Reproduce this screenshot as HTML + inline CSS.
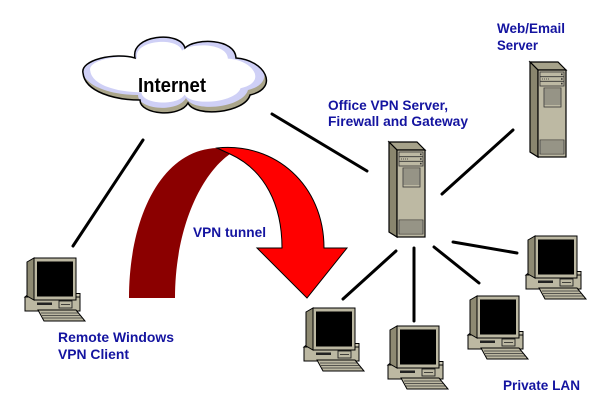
<!DOCTYPE html>
<html><head><meta charset="utf-8"><style>
html,body{margin:0;padding:0;background:#fff;}
svg{display:block;}
text{font-family:"Liberation Sans",Arial,sans-serif;font-weight:bold;}
</style></head><body>
<svg width="600" height="400" viewBox="0 0 600 400" xmlns="http://www.w3.org/2000/svg">
<defs>
  <g id="pc">
    <!-- CPU box -->
    <polygon points="1,41 5,37.5 56,37.5 56,41" fill="#d0ccb8" stroke="#000" stroke-width="1"/>
    <rect x="1" y="41" width="55" height="14" fill="#bcb8a2" stroke="#000" stroke-width="1"/>
    <rect x="13" y="46.5" width="15" height="2.5" fill="#222"/>
    <rect x="35" y="45" width="13" height="7" fill="none" stroke="#222" stroke-width="0.9"/>
    <line x1="37" y1="48.5" x2="46" y2="48.5" stroke="#222" stroke-width="0.8"/>
    <!-- monitor -->
    <polygon points="3,6 10,2 10,44 3,40" fill="#8e8a72" stroke="#000" stroke-width="1"/>
    <rect x="10" y="2" width="42" height="42" fill="#bcb8a2" stroke="#000" stroke-width="1"/>
    <rect x="13" y="5.5" width="36" height="35" fill="#000"/>
    <!-- keyboard -->
    <polygon points="14,54 52,54 61,65 20,65" fill="#bcb8a2" stroke="#000" stroke-width="1"/>
    <line x1="17" y1="57" x2="54" y2="57" stroke="#333" stroke-width="0.8"/>
    <line x1="18" y1="59.5" x2="56" y2="59.5" stroke="#333" stroke-width="0.8"/>
    <line x1="19" y1="62" x2="58" y2="62" stroke="#333" stroke-width="0.8"/>
  </g>
  <g id="tower">
    <polygon points="0,0 28,0 36,8 8,8" fill="#a6a28a" stroke="#000" stroke-width="1.2"/>
    <polygon points="0,0 8,8 8,95 0,90" fill="#8a866e" stroke="#000" stroke-width="1.2"/>
    <rect x="8" y="8" width="28" height="87" fill="#bdb9a3" stroke="#000" stroke-width="1.2"/>
    <rect x="10" y="10" width="24" height="14" fill="none" stroke="#333" stroke-width="0.8"/>
    <line x1="10" y1="14.7" x2="34" y2="14.7" stroke="#333" stroke-width="0.8"/>
    <line x1="10" y1="19.3" x2="34" y2="19.3" stroke="#333" stroke-width="0.8"/>
    <line x1="12" y1="17" x2="20" y2="17" stroke="#333" stroke-width="0.8" stroke-dasharray="1,1"/>
    <rect x="31" y="11.5" width="1.6" height="1.6" fill="#333"/>
    <rect x="31" y="16.2" width="1.6" height="1.6" fill="#333"/>
    <rect x="31" y="20.8" width="1.6" height="1.6" fill="#333"/>
    <rect x="14" y="26" width="17" height="19" fill="none" stroke="#333" stroke-width="0.8"/>
    <path d="M14,28H31M14,30H31M14,32H31M14,34H31M14,36H31M14,38H31M14,40H31M14,42H31" stroke="#555" stroke-width="0.7"/>
    <rect x="10" y="78" width="24" height="14" fill="none" stroke="#333" stroke-width="0.8"/>
    <path d="M10,80H34M10,82H34M10,84H34M10,86H34M10,88H34M10,90H34" stroke="#555" stroke-width="0.7"/>
  </g>
  <clipPath id="cc">
    <path id="cloudp" d="M83,73 C80,60 115,52 135,58 C130,35 180,30 185,48 C195,38 235,38 236,58 C265,60 280,88 250,95 C245,113 195,118 188,103 C180,118 140,115 140,100 C115,100 85,92 83,73 Z"/>
  </clipPath>
</defs>

<!-- connector lines -->
<g stroke="#000" stroke-width="3" stroke-linecap="round">
  <line x1="272" y1="114" x2="367" y2="171"/>
  <line x1="143" y1="140" x2="73" y2="246"/>
  <line x1="442" y1="194" x2="513" y2="130"/>
  <line x1="343" y1="299" x2="396" y2="251"/>
  <line x1="414" y1="321" x2="414" y2="248"/>
  <line x1="434" y1="247" x2="479" y2="283"/>
  <line x1="453" y1="242" x2="517" y2="253"/>
</g>

<!-- cloud -->
<g clip-path="url(#cc)">
  <rect x="70" y="25" width="220" height="100" fill="#aaa58a"/>
  <path d="M83,73 C80,60 115,52 135,58 C130,35 180,30 185,48 C195,38 235,38 236,58 C265,60 280,88 250,95 C245,113 195,118 188,103 C180,118 140,115 140,100 C115,100 85,92 83,73 Z" transform="translate(-2,-5)" fill="#cfd0f6"/>
  <path d="M83,73 C80,60 115,52 135,58 C130,35 180,30 185,48 C195,38 235,38 236,58 C265,60 280,88 250,95 C245,113 195,118 188,103 C180,118 140,115 140,100 C115,100 85,92 83,73 Z" transform="translate(173,73) scale(0.9,0.8) translate(-175,-76)" fill="#fff"/>
</g>
<path d="M83,73 C80,60 115,52 135,58 C130,35 180,30 185,48 C195,38 235,38 236,58 C265,60 280,88 250,95 C245,113 195,118 188,103 C180,118 140,115 140,100 C115,100 85,92 83,73 Z" fill="none" stroke="#000" stroke-width="1.5"/>
<text x="138" y="92" font-size="20" fill="#000" textLength="68" lengthAdjust="spacingAndGlyphs">Internet</text>

<!-- VPN tunnel arrow -->
<path d="M129,298 C129,220 160,150 217,148 L230,154 C200,175 175,230 175,298 Z" fill="#8b0000"/>
<path d="M217,148 C275,142 324,185 324,248 L347,248 L307,298 L257,248 L282,248 C282,205 265,170 230,154 Z" fill="#ff0000" stroke="#000" stroke-width="1" stroke-linejoin="miter"/>

<!-- servers -->
<use href="#tower" x="389" y="142"/>
<use href="#tower" x="530" y="62"/>

<!-- computers -->
<use href="#pc" x="24" y="256"/>
<use href="#pc" x="303" y="306"/>
<use href="#pc" x="387" y="324"/>
<use href="#pc" x="467" y="294"/>
<use href="#pc" x="525" y="234"/>

<!-- labels -->
<g fill="#1414a0" font-size="14">
  <text x="328" y="110" textLength="120" lengthAdjust="spacingAndGlyphs">Office VPN Server,</text>
  <text x="328" y="126" textLength="140" lengthAdjust="spacingAndGlyphs">Firewall and Gateway</text>
  <text x="497" y="33" textLength="68" lengthAdjust="spacingAndGlyphs">Web/Email</text>
  <text x="497" y="50" textLength="41" lengthAdjust="spacingAndGlyphs">Server</text>
  <text x="193" y="237" textLength="73" lengthAdjust="spacingAndGlyphs">VPN tunnel</text>
  <text x="58" y="342" textLength="116" lengthAdjust="spacingAndGlyphs">Remote Windows</text>
  <text x="58" y="359" textLength="71" lengthAdjust="spacingAndGlyphs">VPN Client</text>
  <text x="503" y="390" textLength="77" lengthAdjust="spacingAndGlyphs">Private LAN</text>
</g>
</svg>
</body></html>
